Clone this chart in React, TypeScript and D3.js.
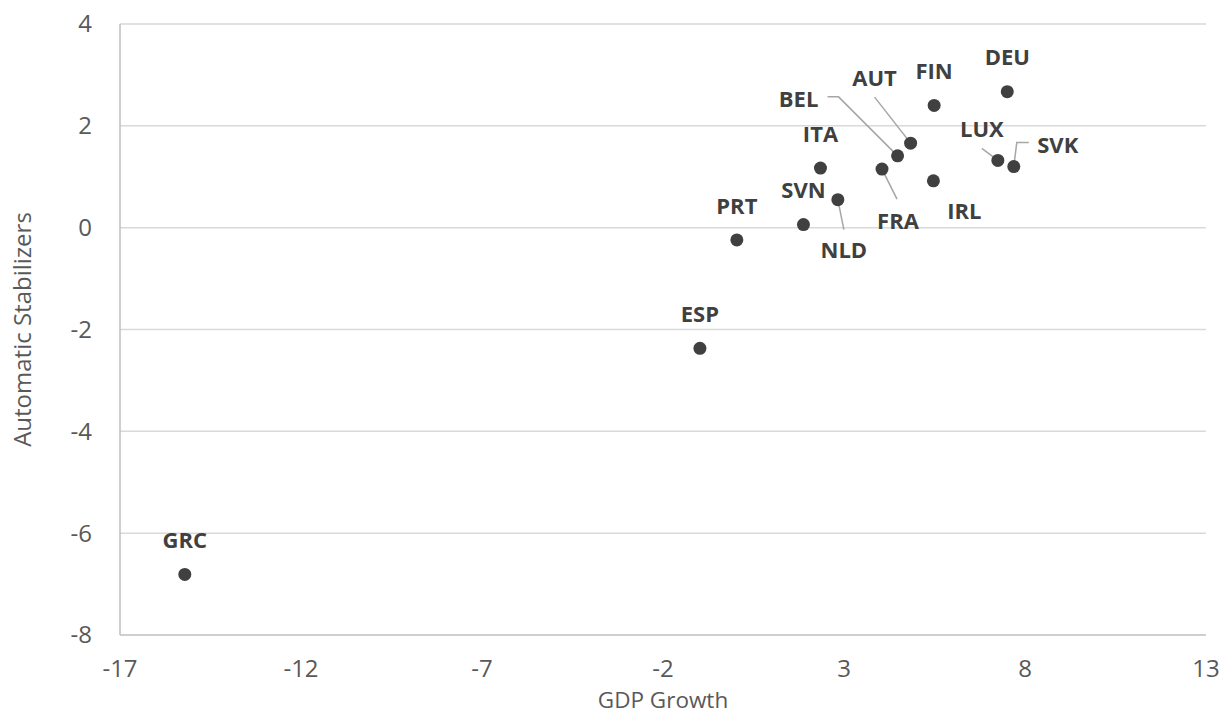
import React, { useEffect, useRef } from 'react';
import * as d3 from 'd3';

// Countries and values
const countries = ['GRC', 'ESP', 'PRT', 'SVN', 'NLD', 'ITA', 'FRA', 'BEL', 'AUT', 'IRL', 'FIN', 'LUX', 'SVK', 'DEU'];
const gdpGrowth = [-15.21, -0.98, 0.04, 1.88, 2.83, 2.35, 4.05, 4.48, 4.84, 5.47, 5.49, 7.25, 7.69, 7.51];
const stabilizers = [-6.81, -2.37, -0.24, 0.06, 0.55, 1.17, 1.15, 1.41, 1.66, 0.92, 2.4, 1.32, 1.2, 2.67];

const xTicks = [-17, -12, -7, -2, 3, 8, 13];
const yTicks = [-8, -6, -4, -2, 0, 2, 4];

// Label placement (pixel offsets from the point) and leader lines
const labelLayout: Record<string, { dx: number; dy: number; leader?: [number, number][] }> = {
  IRL: { dx: 31, dy: 30 },
  AUT: { dx: -36, dy: -65, leader: [[-36, -46]] },
  BEL: { dx: -99, dy: -57, leader: [[-70, -59], [-59, -59]] },
  FRA: { dx: 16, dy: 52, leader: [[15, 30]] },
  NLD: { dx: 6, dy: 51, leader: [[6, 30]] },
  LUX: { dx: -16, dy: -31, leader: [[-16, -12]] },
  SVK: { dx: 44, dy: -21, leader: [[15, -24], [3, -24]] },
};

const App: React.FC = () => {
  const svgRef = useRef<SVGSVGElement>(null);

  useEffect(() => {
    if (!svgRef.current) return;
    const width = 1228;
    const height = 715;
    const margin = { top: 24, right: 22, bottom: 80, left: 120 };

    const svg = d3.select(svgRef.current);
    svg.selectAll('*').remove();

    const x = d3.scaleLinear().domain([-17, 13]).range([margin.left, width - margin.right]);
    const y = d3.scaleLinear().domain([-8, 4]).range([height - margin.bottom, margin.top]);

    const font = '"Open Sans", "DejaVu Sans", sans-serif';

    // Gridlines
    svg
      .append('g')
      .selectAll('line')
      .data(yTicks.filter((t) => t !== -8))
      .enter()
      .append('line')
      .attr('x1', x(-17))
      .attr('x2', x(13))
      .attr('y1', (d) => y(d))
      .attr('y2', (d) => y(d))
      .style('stroke', '#d9d9d9')
      .style('stroke-width', '1.5px');

    // Axis lines
    svg
      .append('line')
      .attr('x1', x(-17))
      .attr('x2', x(-17))
      .attr('y1', y(4))
      .attr('y2', y(-8))
      .style('stroke', '#bfbfbf')
      .style('stroke-width', '1.5px');
    svg
      .append('line')
      .attr('x1', x(-17))
      .attr('x2', x(13))
      .attr('y1', y(-8))
      .attr('y2', y(-8))
      .style('stroke', '#bfbfbf')
      .style('stroke-width', '1.5px');

    // Tick labels
    svg
      .append('g')
      .selectAll('text')
      .data(yTicks)
      .enter()
      .append('text')
      .attr('x', margin.left - 28)
      .attr('y', (d) => y(d))
      .attr('dy', '0.35em')
      .attr('text-anchor', 'end')
      .text((d) => d)
      .style('font-size', '24px')
      .style('font-family', font)
      .style('fill', '#595959');

    svg
      .append('g')
      .selectAll('text')
      .data(xTicks)
      .enter()
      .append('text')
      .attr('x', (d) => x(d))
      .attr('y', y(-8) + 42)
      .attr('text-anchor', 'middle')
      .text((d) => d)
      .style('font-size', '24px')
      .style('font-family', font)
      .style('fill', '#595959');

    // Axis titles
    svg
      .append('text')
      .attr('x', (x(-17) + x(13)) / 2)
      .attr('y', 708)
      .attr('text-anchor', 'middle')
      .text('GDP Growth')
      .style('font-size', '22.5px')
      .style('font-family', font)
      .style('fill', '#595959');

    svg
      .append('text')
      .attr('transform', `translate(23,${(y(4) + y(-8)) / 2}) rotate(-90)`)
      .attr('dy', '0.35em')
      .attr('text-anchor', 'middle')
      .text('Automatic Stabilizers')
      .style('font-size', '24px')
      .style('font-family', font)
      .style('fill', '#595959');

    const points = countries.map((name, i) => ({
      name,
      px: x(gdpGrowth[i]),
      py: y(stabilizers[i]),
    }));

    // Leader lines
    svg
      .append('g')
      .selectAll('path')
      .data(points.filter((p) => labelLayout[p.name]?.leader))
      .enter()
      .append('path')
      .attr('d', (p) => {
        const pts = labelLayout[p.name].leader!.map(([dx, dy]) => [p.px + dx, p.py + dy]);
        pts.push([p.px, p.py]);
        return d3.line()(pts as [number, number][]);
      })
      .style('fill', 'none')
      .style('stroke', '#a6a6a6')
      .style('stroke-width', '1.5px');

    // Points
    svg
      .append('g')
      .selectAll('circle')
      .data(points)
      .enter()
      .append('circle')
      .attr('cx', (p) => p.px)
      .attr('cy', (p) => p.py)
      .attr('r', 6.5)
      .style('fill', '#404040');

    // Data labels
    svg
      .append('g')
      .selectAll('text')
      .data(points)
      .enter()
      .append('text')
      .attr('x', (p) => p.px + (labelLayout[p.name]?.dx ?? 0))
      .attr('y', (p) => p.py + (labelLayout[p.name]?.dy ?? -34))
      .attr('dy', '0.35em')
      .attr('text-anchor', 'middle')
      .text((p) => p.name)
      .style('font-size', '22px')
      .style('font-weight', '700')
      .style('font-family', font)
      .style('fill', '#404040');
  }, []);

  return (
    <svg
      ref={svgRef}
      width={1228}
      height={715}
      style={{ position: 'absolute', left: 0, top: 0, background: '#fff' }}
    ></svg>
  );
};

export default App;
